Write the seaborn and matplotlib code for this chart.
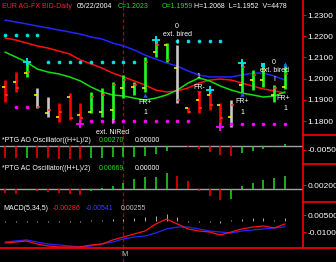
import matplotlib
matplotlib.use("Agg")
import matplotlib.pyplot as plt
import seaborn as sns
from matplotlib.lines import Line2D

# ---------------- data ----------------
bar_idx = list(range(27))
highs = [1.1993, 1.2031, 1.2078, 1.1956, 1.1913, 1.1885, 1.1932, 1.1885, 1.1937, 1.1956,
         1.1984, 1.2017, 1.1984, 1.2102, 1.2182, 1.2168, 1.2158, 1.1866, 1.1932, 1.1946,
         1.1885, 1.1899, 1.2074, 1.2041, 1.2064, 1.1970, 1.2068]
lows = [1.1890, 1.1937, 1.2008, 1.1861, 1.1819, 1.1795, 1.1805, 1.1795, 1.1838, 1.1819,
        1.1805, 1.1908, 1.1923, 1.1937, 1.2102, 1.2078, 1.1885, 1.1838, 1.1838, 1.1852,
        1.1781, 1.1772, 1.1932, 1.1946, 1.1960, 1.1890, 1.1952]
opens = [1.1960, 1.1984, 1.2026, 1.1923, 1.1838, 1.1819, 1.1913, 1.1828, 1.1842, 1.1842,
         1.1852, 1.1956, 1.1960, 1.1956, 1.2125, 1.2158, 1.2050, 1.1861, 1.1899, 1.1923,
         1.1876, 1.1819, 1.1970, 1.1993, 1.1993, 1.1923, 1.1959]
closes = [1.1923, 1.1956, 1.2031, 1.1866, 1.1852, 1.1842, 1.1814, 1.1814, 1.1913, 1.1923,
          1.1970, 1.1993, 1.1970, 1.2078, 1.2158, 1.2088, 1.1899, 1.1842, 1.1861, 1.1876,
          1.1814, 1.1876, 1.2055, 1.2017, 1.2041, 1.1956, 1.2023]
bar_state = ["dn", "dn", "up", "nt", "nt", "dn", "dn", "dn", "up", "up",
             "up", "up", "up", "up", "up", "up", "nt", "dn", "dn", "dn",
             "dn", "nt", "up", "up", "up", "up", "up"]

ma_blue = [1.2276, 1.2267, 1.2258, 1.2248, 1.2239, 1.2229, 1.2220, 1.2210, 1.2196, 1.2187,
           1.2168, 1.2154, 1.2135, 1.2111, 1.2092, 1.2074, 1.2059, 1.2036, 1.2017, 1.2008,
           1.2008, 1.2008, 1.2017, 1.2026, 1.2026, 1.2012, 1.1993]
ma_red = [1.2192, 1.2182, 1.2168, 1.2154, 1.2144, 1.2130, 1.2116, 1.2088, 1.2069, 1.2050,
          1.2026, 1.2008, 1.1989, 1.1970, 1.1946, 1.1937, 1.1942, 1.1956, 1.1979, 1.1993,
          1.1998, 1.1993, 1.1979, 1.1965, 1.1951, 1.1942, 1.1932]
ma_green = [1.2125, 1.2102, 1.2078, 1.2045, 1.2031, 1.2022, 1.2008, 1.1989, 1.1960, 1.1937,
            1.1923, 1.1918, 1.1908, 1.1899, 1.1908, 1.1923, 1.1946, 1.1979, 1.2003, 1.1989,
            1.1965, 1.1946, 1.1932, 1.1923, 1.1913, 1.1918, 1.1937]

cyan_dot_idx = [0, 1, 2, 3, 4, 5, 6, 7, 8, 9, 10, 11, 12, 16, 17, 18, 19, 20]
cyan_dot_val = [1.2206] * 4 + [1.2078] * 9 + [1.2176] * 5
mag_dot_idx = [1, 2, 8, 9, 10, 11, 12, 13, 14, 15, 16, 17, 21, 22, 23, 24, 25, 26]
mag_dot_val = [1.1866] * 2 + [1.1800] * 10 + [1.1785] * 6
up_frac_idx = [2, 14, 19, 22]
up_frac_val = [1.2078, 1.2182, 1.1946, 1.2074]
dn_frac_idx = [7, 20]
dn_frac_val = [1.1785, 1.1772]

ao_vals = [-0.0150, -0.0155, -0.0145, -0.0150, -0.0155, -0.0158, -0.0160, -0.0162, -0.0150, -0.0145,
           -0.0140, -0.0138, -0.0135, -0.0125, -0.0100, -0.0065, -0.0005, -0.0012, -0.0038, -0.0075,
           -0.0112, -0.0125, -0.0088, -0.0062, -0.0038, -0.0012, 0.0027]
ac_vals = [-0.0020, -0.0025, -0.0005, -0.0010, -0.0015, -0.0020, -0.0025, -0.0028, -0.0010, 0.0005,
           0.0015, 0.0030, 0.0050, 0.0060, 0.0062, 0.0080, 0.0065, 0.0040, -0.0010, -0.0035,
           -0.0055, -0.0052, 0.0015, 0.0030, 0.0045, 0.0055, 0.00669]

macd_line = [-0.0197, -0.0188, -0.0179, -0.0206, -0.0223, -0.0232, -0.0232, -0.0232, -0.0214, -0.0206,
             -0.0170, -0.0144, -0.0117, -0.0091, -0.0029, 0.0015, -0.0029, -0.0073, -0.0091, -0.0100,
             -0.0126, -0.0100, -0.0073, -0.0056, -0.0047, -0.0064, -0.00286]
signal_line = [-0.0188, -0.0179, -0.0170, -0.0188, -0.0206, -0.0214, -0.0223, -0.0232, -0.0223, -0.0206,
               -0.0188, -0.0161, -0.0144, -0.0135, -0.0108, -0.0073, -0.0056, -0.0056, -0.0073, -0.0091,
               -0.0100, -0.0108, -0.0091, -0.0082, -0.0073, -0.0064, -0.00541]
macd_hist = [-0.0008, -0.0008, -0.0008, -0.0010, -0.0010, -0.0010, -0.0008, -0.0008, 0.0008, 0.0008,
             0.0015, 0.0015, 0.0020, 0.0035, 0.0045, 0.0060, 0.0035, -0.0015, -0.0015, -0.0010,
             -0.0020, 0.0010, 0.0015, 0.0020, 0.0020, 0.0010, 0.00255]

price_ticks = [1.18, 1.19, 1.20, 1.21, 1.22, 1.23]
ao_ticks = [-0.005]
ac_ticks = [0.002]
macd_ticks = [0.005, -0.010]

# ---------------- style ----------------
sns.set_theme(style="dark", rc={"axes.facecolor": "black", "figure.facecolor": "black"})
plt.rcParams['font.family'] = ['Liberation Sans', 'DejaVu Sans']

W, H = 336, 262
fig = plt.figure(figsize=(W / 100, H / 100), dpi=100)
fig.patch.set_facecolor('black')


def rect(x0, y0, x1, y1):
    return [x0 / W, 1 - y1 / H, (x1 - x0) / W, (y1 - y0) / H]


ax_p = fig.add_axes(rect(0, 0, 303, 135))
ax_ao = fig.add_axes(rect(0, 135, 303, 164))
ax_ac = fig.add_axes(rect(0, 164, 303, 202))
ax_m = fig.add_axes(rect(0, 202, 303, 248))
ax_b = fig.add_axes(rect(0, 248, 303, 262))

XL = (-0.464, 27.67)
for ax in (ax_p, ax_ao, ax_ac, ax_m, ax_b):
    ax.set_facecolor('black')
    ax.set_xlim(*XL)
    ax.grid(False)
    for s in ax.spines.values():
        s.set_visible(False)
    ax.set_xticks([])
    ax.yaxis.tick_right()
    ax.tick_params(axis='y', right=True, left=False, labelright=True, labelleft=False,
                   colors='red', labelcolor='white', length=2.2, width=0.8, pad=1.0,
                   labelsize=6.0)
    ax.axvline(11.0, color='#b00000', lw=0.9, ls=(0, (3, 2)), zorder=1)
for ax in (ax_p, ax_ao, ax_ac, ax_m):
    ax.spines['right'].set_visible(True)
    ax.spines['right'].set_color('red')
    ax.spines['right'].set_linewidth(1.2)
ax_b.set_yticks([])

# ---------------- price panel ----------------
ax_p.set_ylim(1.17340, 1.23708)
ax_p.set_yticks(price_ticks)
ax_p.set_yticklabels([f"{v:.4f}" for v in price_ticks])

sns.lineplot(x=bar_idx, y=ma_blue, ax=ax_p, color='#2424ff', lw=1.1, zorder=3)
sns.lineplot(x=bar_idx, y=ma_red, ax=ax_p, color='#ff1010', lw=1.1, zorder=3)
sns.lineplot(x=bar_idx, y=ma_green, ax=ax_p, color='#10e010', lw=1.1, zorder=3)

state_col = {"dn": "#ff0000", "up": "#22ff22", "nt": "#c8c8c8"}
ax_p.vlines(bar_idx, lows, highs, colors=[state_col[s] for s in bar_state], lw=1.9, zorder=4)
ax_p.hlines(opens, [i - 0.28 for i in bar_idx], bar_idx, colors='#ffff00', lw=1.1, zorder=5)
ax_p.hlines(closes, bar_idx, [i + 0.28 for i in bar_idx], colors='#ff3030', lw=1.1, zorder=5)

sns.scatterplot(x=cyan_dot_idx, y=cyan_dot_val, ax=ax_p, color='#00e0e0', s=7, linewidth=0, zorder=6)
sns.scatterplot(x=mag_dot_idx, y=mag_dot_val, ax=ax_p, color='#ff00ff', s=7, linewidth=0, zorder=6)
sns.scatterplot(x=up_frac_idx, y=up_frac_val, ax=ax_p, color='#00e0e0', marker='+', s=40,
                linewidth=1.4, zorder=7)
sns.scatterplot(x=dn_frac_idx, y=dn_frac_val, ax=ax_p, color='#ff00ff', marker='+', s=30,
                linewidth=1.3, zorder=7)
sns.scatterplot(x=[24], y=[1.2064], ax=ax_p, color='#00e0e0', marker='s', s=6, linewidth=0, zorder=7)
sns.scatterplot(x=[13, 22, 26], y=[1.1923, 1.1927, 1.2070], ax=ax_p, color='#3050ff', marker='^',
                s=10, linewidth=0, zorder=7)
sns.scatterplot(x=[18], y=[1.1930], ax=ax_p, color='#ff2020', marker='v', s=10, linewidth=0, zorder=7)

ann = [(15.97, 1.2248, "0"), (16.06, 1.2206, "ext. bired"), (15.97, 1.2168, "I"),
       (24.98, 1.2078, "0"), (24.98, 1.2036, "ext. bired"), (24.98, 1.1998, "I"),
       (10.0, 1.1791, "I"), (10.0, 1.1748, "ext. NiRed"),
       (13.0, 1.1885, "FR+"), (13.0, 1.1838, "1"),
       (18.0, 1.2008, "1"), (18.0, 1.1956, "FR-"),
       (22.0, 1.1890, "FR+"), (22.0, 1.1842, "1"),
       (25.8, 1.1908, "FR+"), (26.0, 1.1857, "1")]
for x, y, t in ann:
    ax_p.text(x, y, t, color='white', fontsize=5, ha='center', va='center', zorder=8, clip_on=False)

# ---------------- AO panel ----------------
ax_ao.set_ylim(-0.0225, 0.01375)
ax_ao.set_yticks(ao_ticks)
ax_ao.set_yticklabels(["-0.00500"])
ax_ao.axhline(0, color='#a0a0a0', lw=1.0, zorder=2)
ao_cols = ['#ff0000' if (i == 0 or ao_vals[i] < ao_vals[i - 1]) else '#22dd22' for i in bar_idx]
ax_ao.vlines(bar_idx, 0, ao_vals, colors=ao_cols, lw=1.1, zorder=3)

# ---------------- AC panel ----------------
ax_ac.set_ylim(-0.0065, 0.0125)
ax_ac.set_yticks(ac_ticks)
ax_ac.set_yticklabels(["0.00200"])
ax_ac.axhline(0, color='#a0a0a0', lw=1.0, zorder=2)
ac_cols = ['#ff0000' if (i == 0 or ac_vals[i] < ac_vals[i - 1]) else '#22dd22' for i in bar_idx]
ax_ac.vlines(bar_idx, 0, ac_vals, colors=ac_cols, lw=1.1, zorder=3)

# ---------------- MACD panel ----------------
ax_m.set_ylim(-0.0241, 0.0165)
ax_m.set_yticks(macd_ticks)
ax_m.set_yticklabels(["0.00500", "-0.01000"])
ax_m.vlines(bar_idx, 0, macd_hist, colors='#b0b0b0', lw=0.7, zorder=2)
sns.lineplot(x=bar_idx, y=signal_line, ax=ax_m, color='#2424ff', lw=0.9, zorder=3)
sns.lineplot(x=bar_idx, y=macd_line, ax=ax_m, color='#ff1010', lw=0.9, zorder=4)

# ---------------- bottom strip ----------------
ax_b.set_ylim(0, 1)
ax_b.text(11.1, 0.5, "M", color='#c0c0c0', fontsize=5.5, ha='center', va='center')

for ax in (ax_p, ax_ao, ax_ac, ax_m, ax_b):
    ax.set_xlabel("")
    ax.set_ylabel("")
    if ax.get_legend():
        ax.get_legend().remove()

# ---------------- frame lines ----------------
for yy in (135, 164, 202):
    fig.add_artist(Line2D([303 / W, 1], [1 - yy / H, 1 - yy / H], color='red', lw=1.2))
fig.add_artist(Line2D([0, 1], [1 - 248 / H, 1 - 248 / H], color='red', lw=1.2))


# ---------------- texts ----------------
def ftext(x, y, s, c, fs=5.0):
    fig.text(x / W, 1 - y / H, s, color=c, fontsize=fs, ha='left', va='center')


ftext(2, 6, "EUR AG-FX BID-Daily", '#ff2020')
ftext(77, 6, "05/22/2004", 'white')
ftext(118, 6, "C=1.2023", '#20e020')
ftext(162, 6, "O=1.1959", '#20e020')
ftext(194, 6, "H=1.2068  L=1.1952  V=4478", 'white')

ftext(2, 141, "*PTG AO Oscillator((H+L)/2)", 'white')
ftext(99, 141, "0.00270", '#20e020')
ftext(135, 141, "0.00000", 'white')
ftext(2, 169, "*PTG AC Oscillator((H+L)/2)", 'white')
ftext(99, 169, "0.00669", '#20e020')
ftext(135, 169, "0.00000", 'white')
ftext(3, 208, "MACD(5,34,5)", 'white')
ftext(53, 208, "-0.00286", '#ff2020')
ftext(86, 208, "-0.00541", '#3a3aff')
ftext(121, 208, "0.00255", '#c0c0c0')

fig.savefig("out.png", dpi=100, facecolor='black')
